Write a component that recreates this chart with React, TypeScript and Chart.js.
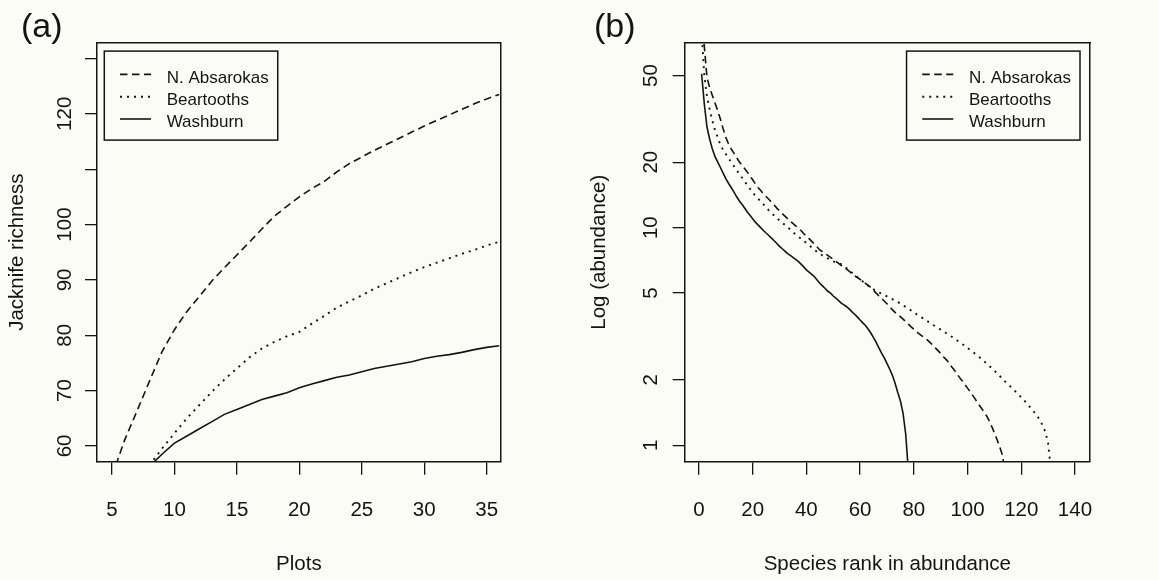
import React, { useEffect, useRef } from 'react';
import { Chart, registerables } from 'chart.js';

Chart.register(...registerables);

const FONT = "'Liberation Sans', Arial, Helvetica, sans-serif";
const INK = '#141414';
const BG = '#fcfcf6';

// ---------- Panel (a): jackknife richness vs plots ----------
const plots = [5, 6, 7, 8, 9, 10, 11, 12, 13, 14, 15, 16, 17, 18, 19, 20, 21, 22, 23, 24, 25, 26, 27, 28, 29, 30, 31, 32, 33, 34, 35, 36];
const absarokasRichness = [54.5, 61, 66.3, 71.7, 77, 81, 84.3, 87, 89.8, 92.2, 94.5, 96.8, 99.2, 101.5, 103.3, 105, 106.5, 107.8, 109.5, 111, 112.2, 113.4, 114.5, 115.6, 116.7, 117.8, 118.8, 119.8, 120.8, 121.8, 122.7, 123.5];
const beartoothsRichness = [null, null, null, 56.5, 59.5, 62.3, 65, 67.4, 69.8, 72, 74, 76, 77.6, 78.8, 79.8, 80.6, 82.1, 83.5, 85, 86.1, 87.2, 88.4, 89.4, 90.4, 91.4, 92.3, 93.1, 93.9, 94.7, 95.4, 96.2, 96.9];
const washburnRichness = [null, null, null, 56.3, 58.5, 60.5, 61.8, 63.1, 64.4, 65.7, 66.6, 67.5, 68.4, 69.0, 69.6, 70.5, 71.2, 71.8, 72.4, 72.8, 73.4, 74.0, 74.4, 74.8, 75.2, 75.8, 76.2, 76.5, 76.9, 77.4, 77.8, 78.1];
const plotTicks = [5, 10, 15, 20, 25, 30, 35];
const richnessTicks = [60, 70, 80, 90, 100, 110, 120, 130];
const richnessTickLabels = ['60', '70', '80', '90', '100', '', '120', ''];

// ---------- Panel (b): rank-abundance ----------
const absarokasAbundance = [
  90, 68, 49, 44, 40.5, 37.3, 34.5, 31.5, 28.5, 26,
  24.3, 23, 22, 21, 20.1, 19.4, 18.7, 18.0, 17.3, 16.6,
  15.9, 15.3, 14.8, 14.3, 13.9, 13.5, 13.1, 12.7, 12.3, 11.95,
  11.6, 11.3, 11.0, 10.7, 10.45, 10.2, 9.95, 9.7, 9.4, 9.15,
  8.9, 8.65, 8.4, 8.15, 7.9, 7.75, 7.6, 7.45, 7.3, 7.15,
  7.0, 6.85, 6.7, 6.6, 6.45, 6.3, 6.15, 6.0, 5.9, 5.78,
  5.66, 5.55, 5.43, 5.3, 5.15, 5.0, 4.85, 4.72, 4.6, 4.47,
  4.34, 4.2, 4.08, 4.0, 3.9, 3.8, 3.7, 3.6, 3.5, 3.42,
  3.33, 3.25, 3.18, 3.12, 3.05, 2.97, 2.89, 2.8, 2.72, 2.64,
  2.55, 2.48, 2.4, 2.3, 2.22, 2.14, 2.05, 1.98, 1.9, 1.83,
  1.76, 1.69, 1.62, 1.55, 1.49, 1.43, 1.37, 1.3, 1.22, 1.14,
  1.06, 0.98, 0.9, 0.75,
];
const beartoothsAbundance = [
  80, 50, 40, 35, 31, 28, 26, 24, 22.8, 21.8,
  20.9, 20, 19.2, 18.4, 17.7, 17.0, 16.3, 15.7, 15.1, 14.5,
  14.0, 13.6, 13.2, 12.8, 12.4, 12.0, 11.7, 11.35, 11.05, 10.8,
  10.55, 10.3, 10.05, 9.8, 9.55, 9.3, 9.1, 8.9, 8.7, 8.5,
  8.3, 8.1, 7.9, 7.75, 7.6, 7.45, 7.33, 7.22, 7.11, 7.0,
  6.92, 6.86, 6.78, 6.65, 6.5, 6.35, 6.2, 6.05, 5.92, 5.8,
  5.66, 5.53, 5.41, 5.3, 5.2, 5.12, 5.04, 4.97, 4.9, 4.83,
  4.76, 4.69, 4.62, 4.55, 4.48, 4.4, 4.32, 4.24, 4.16, 4.08,
  4.0, 3.93, 3.86, 3.79, 3.72, 3.65, 3.58, 3.52, 3.46, 3.4,
  3.34, 3.28, 3.22, 3.16, 3.1, 3.04, 2.98, 2.92, 2.86, 2.8,
  2.74, 2.68, 2.62, 2.56, 2.5, 2.44, 2.38, 2.32, 2.26, 2.2,
  2.14, 2.08, 2.02, 1.96, 1.91, 1.86, 1.81, 1.76, 1.71, 1.66,
  1.61, 1.56, 1.51, 1.46, 1.41, 1.36, 1.3, 1.23, 1.15, 1.02,
  0.78,
];
const washburnAbundance = [
  51, 37, 29, 25.5, 23, 21.2, 20, 18.9, 17.8, 16.8,
  16.0, 15.3, 14.6, 13.9, 13.3, 12.8, 12.3, 11.8, 11.4, 11.0,
  10.6, 10.3, 10.0, 9.7, 9.45, 9.2, 8.95, 8.7, 8.45, 8.2,
  8.0, 7.8, 7.6, 7.45, 7.3, 7.15, 7.0, 6.8, 6.6, 6.4,
  6.25, 6.1, 5.95, 5.75, 5.55, 5.4, 5.25, 5.1, 5.0, 4.85,
  4.75, 4.62, 4.5, 4.42, 4.33, 4.22, 4.1, 4.0, 3.88, 3.76,
  3.65, 3.55, 3.42, 3.28, 3.12, 2.97, 2.8, 2.65, 2.52, 2.38,
  2.24, 2.1, 1.93, 1.75, 1.6, 1.4, 1.12, 0.75,
];
const rankTicks = [0, 20, 40, 60, 80, 100, 120, 140];
const abundanceTicks = [1, 2, 5, 10, 20, 50];

const seriesNames = ['N. Absarokas', 'Beartooths', 'Washburn'];
const dashStyles = [[7.5, 4.5], [2, 5], []];

// ---------- helpers ----------
const fixSize = (w?: number, h?: number) => (scale: any) => {
  if (w !== undefined) scale.width = w;
  if (h !== undefined) scale.height = h;
  scale.paddingLeft = 0;
  scale.paddingRight = 0;
  scale.paddingTop = 0;
  scale.paddingBottom = 0;
};

const boxLegend = {
  id: 'boxLegend',
  afterDraw(chart: any, _args: any, opts: any) {
    if (!opts || !opts.show) return;
    const ctx = chart.ctx as CanvasRenderingContext2D;
    const area = chart.chartArea;
    const ds = chart.data.datasets;
    ctx.save();
    ctx.font = `${opts.fontSize}px ${FONT}`;
    let maxW = 0;
    ds.forEach((d: any) => { maxW = Math.max(maxW, ctx.measureText(d.label).width); });
    const w = opts.textOffset + maxW + opts.padRight;
    const left = opts.side === 'left' ? area.left + opts.inset : area.right - opts.inset - w;
    const top = area.top + opts.insetTop;
    ctx.strokeStyle = INK;
    ctx.lineWidth = 1.5;
    ctx.setLineDash([]);
    ctx.strokeRect(left, top, w, opts.height);
    ds.forEach((d: any, i: number) => {
      const base = top + opts.firstBaseline + i * opts.rowGap;
      const ly = base - opts.lineRaise;
      ctx.setLineDash(d.borderDash || []);
      ctx.lineWidth = d.borderWidth;
      ctx.beginPath();
      ctx.moveTo(left + opts.lineStart, ly);
      ctx.lineTo(left + opts.lineEnd, ly);
      ctx.stroke();
      ctx.setLineDash([]);
      ctx.fillStyle = INK;
      ctx.textAlign = 'left';
      ctx.textBaseline = 'alphabetic';
      ctx.fillText(d.label, left + opts.textOffset, base);
    });
    ctx.restore();
  },
};

const tickFont = { size: 20.5, family: FONT };
const panelFont = { size: 34, family: FONT, lineHeight: 0.8, weight: 'normal' };
const axisStyle = (tickLength: number) => ({
  grid: { display: true, drawOnChartArea: false, drawTicks: true, tickLength, color: INK, lineWidth: 1.3 },
  border: { display: true, color: INK, width: 1.5 },
});
const boxEdge = (axis: 'x' | 'y', position: string, w?: number, h?: number) => ({
  type: 'linear',
  axis,
  position,
  display: true,
  min: 0,
  max: 1,
  ticks: { display: false },
  grid: { display: false, drawTicks: false },
  border: { display: true, color: INK, width: 1.5 },
  afterFit: fixSize(w, h),
});

const legendOpts = (side: 'left' | 'right', inset: number) => ({
  show: true,
  side,
  inset,
  insetTop: 8.4,
  height: 89,
  fontSize: 17,
  textOffset: 62.4,
  padRight: 9,
  lineStart: 15.7,
  lineEnd: 46.7,
  firstBaseline: 31.6,
  rowGap: 22.3,
  lineRaise: 8.3,
});

function makeLine(label: string, idx: number, pts: any[]) {
  return {
    label,
    data: pts,
    borderColor: INK,
    borderWidth: idx === 1 ? 1.9 : 1.6,
    borderDash: dashStyles[idx],
    pointRadius: 0,
    fill: false,
    tension: 0,
    spanGaps: false,
    xAxisID: 'x',
    yAxisID: 'y',
  };
}

function configA(): any {
  const series = [absarokasRichness, beartoothsRichness, washburnRichness];
  return {
    type: 'line',
    data: {
      datasets: series.map((arr, i) => makeLine(seriesNames[i], i, plots.map((p, j) => ({ x: p, y: arr[j] })))),
    },
    plugins: [boxLegend],
    options: {
      responsive: false,
      animation: false,
      events: [],
      font: { family: FONT },
      layout: { padding: { left: 21, right: 79.3, top: 0, bottom: 0 } },
      plugins: {
        legend: { display: false },
        tooltip: { enabled: false },
        title: { display: true, text: '(a)', align: 'start', color: INK, font: panelFont, padding: { top: 13.9, bottom: 1.6 } },
        boxLegend: legendOpts('left', 7.3),
      },
      scales: {
        x: {
          type: 'linear', position: 'bottom', bounds: 'data', min: 3.8, max: 36.12,
          afterBuildTicks: (s: any) => { s.ticks = plotTicks.map((v) => ({ value: v })); },
          afterFit: fixSize(undefined, 118.3),
          ticks: { color: INK, font: tickFont, padding: 23.3, autoSkip: false, maxRotation: 0, minRotation: 0, callback: (v: any) => String(v) },
          title: { display: true, text: 'Plots', color: INK, font: tickFont, padding: { top: 0, bottom: 3.0 } },
          ...axisStyle(13),
        },
        y: {
          type: 'linear', position: 'left', bounds: 'data', min: 57.15, max: 132.85,
          afterBuildTicks: (s: any) => { s.ticks = richnessTicks.map((v) => ({ value: v })); },
          afterFit: fixSize(76, undefined),
          ticks: {
            color: INK, font: tickFont, padding: 2.9, autoSkip: false, minRotation: 90, maxRotation: 90, crossAlign: 'center',
            callback: (v: any) => richnessTickLabels[richnessTicks.indexOf(v)] ?? '',
          },
          title: { display: true, text: 'Jacknife richness', color: INK, font: tickFont, padding: { top: -16.3, bottom: 0 } },
          ...axisStyle(12),
        },
        x2: boxEdge('x', 'top', undefined, 0),
        y2: boxEdge('y', 'right', 0, undefined),
      },
    },
  };
}

function configB(): any {
  const series = [absarokasAbundance, beartoothsAbundance, washburnAbundance];
  return {
    type: 'line',
    data: {
      datasets: series.map((arr, i) => makeLine(seriesNames[i], i, arr.map((v, j) => ({ x: j + 1, y: v })))),
    },
    plugins: [boxLegend],
    options: {
      responsive: false,
      animation: false,
      events: [],
      font: { family: FONT },
      layout: { padding: { left: 14, right: 69, top: 0, bottom: 0 } },
      plugins: {
        legend: { display: false },
        tooltip: { enabled: false },
        title: { display: true, text: '(b)', align: 'start', color: INK, font: panelFont, padding: { top: 13.9, bottom: 1.6 } },
        boxLegend: legendOpts('right', 10),
      },
      scales: {
        x: {
          type: 'linear', position: 'bottom', bounds: 'data', min: -5.3, max: 145.6,
          afterBuildTicks: (s: any) => { s.ticks = rankTicks.map((v) => ({ value: v })); },
          afterFit: fixSize(undefined, 118.3),
          ticks: { color: INK, font: tickFont, padding: 23.3, autoSkip: false, maxRotation: 0, minRotation: 0, callback: (v: any) => String(v) },
          title: { display: true, text: 'Species rank in abundance', color: INK, font: tickFont, padding: { top: 0, bottom: 3.0 } },
          ...axisStyle(13),
        },
        y: {
          type: 'logarithmic', position: 'left', bounds: 'data', min: 0.84, max: 70.8,
          afterBuildTicks: (s: any) => { s.ticks = abundanceTicks.map((v) => ({ value: v })); },
          afterFit: fixSize(90.7, undefined),
          ticks: {
            color: INK, font: tickFont, padding: 9.6, autoSkip: false, minRotation: 90, maxRotation: 90, crossAlign: 'center',
            callback: (v: any) => String(v),
          },
          title: { display: true, text: 'Log (abundance)', color: INK, font: tickFont, padding: { top: -7.3, bottom: 0 } },
          ...axisStyle(12),
        },
        x2: boxEdge('x', 'top', undefined, 0),
        y2: boxEdge('y', 'right', 0, undefined),
      },
    },
  };
}

function Panel({ make, left, width }: { make: () => any; left: number; width: number }) {
  const ref = useRef<HTMLCanvasElement | null>(null);
  useEffect(() => {
    if (!ref.current) return;
    const chart = new Chart(ref.current, make());
    return () => chart.destroy();
  }, [make]);
  return (
    <canvas
      ref={ref}
      width={width}
      height={580}
      style={{ position: 'absolute', left, top: 0, width, height: 580 }}
    />
  );
}

export default function App() {
  return (
    <div style={{ position: 'fixed', left: 0, top: 0, width: 1159, height: 580, background: BG, overflow: 'hidden' }}>
      <Panel make={configA} left={0} width={580} />
      <Panel make={configB} left={580} width={579} />
    </div>
  );
}
